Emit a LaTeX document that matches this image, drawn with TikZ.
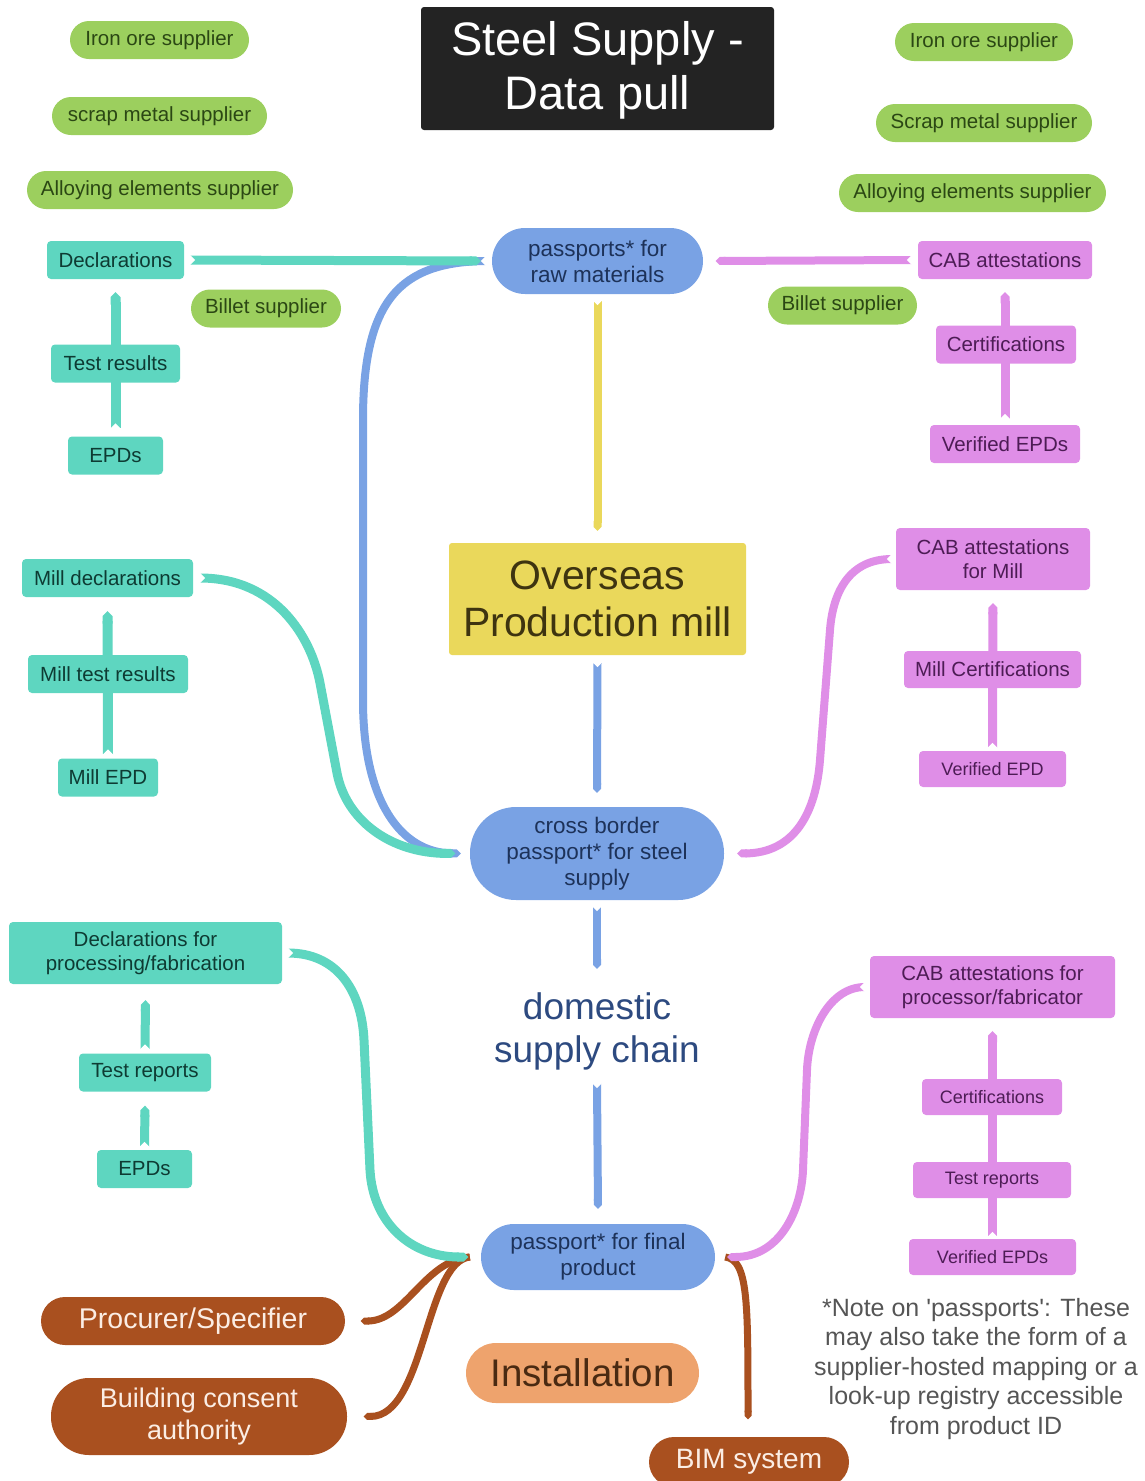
\documentclass[tikz,border=0pt]{standalone}
\usepackage{fontspec}
\setmainfont{Liberation Sans}
\usetikzlibrary{arrows.meta}
\pgfdeclarelayer{bg}
\pgfsetlayers{bg,main}

% palette
\definecolor{cgreen}{HTML}{9CCF5E}\definecolor{tgreen}{HTML}{2B4714}
\definecolor{cteal}{HTML}{5ED6C0}\definecolor{tteal}{HTML}{0E3B33}
\definecolor{cpink}{HTML}{DF8EE7}\definecolor{tpink}{HTML}{4D1C55}
\definecolor{cblue}{HTML}{79A2E4}\definecolor{tblue}{HTML}{1D3259}
\definecolor{cyellow}{HTML}{EAD85B}\definecolor{tyellow}{HTML}{3E3410}
\definecolor{corange}{HTML}{EEA36D}\definecolor{torange}{HTML}{4A2A12}
\definecolor{cbrown}{HTML}{A9501F}\definecolor{tbrown}{HTML}{FBEDE4}
\definecolor{ctitle}{HTML}{232323}
\definecolor{cdom}{HTML}{2D4A80}
\definecolor{cnote}{HTML}{555555}

\newcommand\setfs[2]{\fontsize{#1pt}{#2pt}\selectfont}

\tikzset{
  box/.style={inner sep=0pt, align=center, font=\setfs{20.5}{24}},
  greenpill/.style={box, fill=cgreen, text=tgreen, minimum height=38pt, rounded corners=19pt},
  tealbox/.style={box, fill=cteal, text=tteal, minimum height=38pt, rounded corners=4pt},
  pinkbox/.style={box, fill=cpink, text=tpink, minimum height=38pt, rounded corners=4pt},
  pinksmall/.style={pinkbox, minimum height=36pt, font=\setfs{18}{22}},
  bluepill/.style={box, fill=cblue, text=tblue, font=\setfs{22.5}{26}},
  brownpill/.style={box, fill=cbrown, text=tbrown},
  link/.style={line width=9pt, -{Triangle Cap}},
  % swallowtail cut at the start of a ribbon; +x is the direction of travel
  notch/.pic={\fill[white] (-1,-6) -- (5,0) -- (-1,6) -- cycle;},
}

\begin{document}
\begin{tikzpicture}[x=1pt, y=-1pt]
\useasboundingbox (0,0) rectangle (1145,1481);

% title
\node[box, fill=ctitle, text=white, minimum width=353pt, minimum height=123pt,
      rounded corners=3pt, font=\setfs{47}{54}] (title) at (597.5,68.5) {\strut Steel Supply -\\Data pull};

% raw material suppliers
\node[greenpill, minimum width=179pt] (gl1) at (159.5,40) {Iron ore supplier};
\node[greenpill, minimum width=215pt] (gl2) at (159.5,116) {scrap metal supplier};
\node[greenpill, minimum width=266pt] (gl3) at (160,190) {Alloying elements supplier};
\node[greenpill, minimum width=150pt] (gl4) at (266,308.5) {Billet supplier};
\node[greenpill, minimum width=178pt] (gr1) at (984,42) {Iron ore supplier};
\node[greenpill, minimum width=216pt] (gr2) at (984,123) {Scrap metal supplier};
\node[greenpill, minimum width=267pt] (gr3) at (972.5,193) {Alloying elements supplier};
\node[greenpill, minimum width=149pt] (gr4) at (842.5,305.5) {Billet supplier};

% main chain
\node[bluepill, minimum width=211pt, minimum height=66pt, rounded corners=33pt] (raw) at (597.5,261) {passports* for\\raw materials};
\node[box, fill=cyellow, text=tyellow, minimum width=297pt, minimum height=112pt, rounded corners=3pt,
      font=\setfs{41}{47}] (mill) at (597.5,599) {Overseas\\Production mill};
\node[bluepill, minimum width=254pt, minimum height=93pt, rounded corners=46pt] (cb) at (597,853.5) {cross border\\passport* for steel\\supply};
\node[box, text=cdom, minimum height=100pt, font=\setfs{37}{43}] (dom) at (597,1031) {domestic\\supply chain};
\node[bluepill, minimum width=234pt, minimum height=66pt, rounded corners=33pt] (fin) at (598,1257) {passport* for final\\product};
\node[box, fill=corange, text=torange, minimum width=233pt, minimum height=60pt, rounded corners=30pt,
      font=\setfs{38.5}{44}] (inst) at (582.5,1373) {Installation};

% users of the final passport
\node[brownpill, minimum width=304pt, minimum height=48pt, rounded corners=24pt, font=\setfs{28.5}{33}] (proc) at (193,1321) {Procurer/Specifier};
\node[brownpill, minimum width=296pt, minimum height=77pt, rounded corners=38pt, font=\setfs{27}{32}] (bca) at (199,1416.5) {Building consent\\authority};
\node[brownpill, minimum width=200pt, minimum height=50pt, rounded corners=25pt, font=\setfs{28}{32}] (bim) at (749,1462) {BIM system};

% declarations (left)
\node[tealbox, minimum width=137pt] (dec) at (115.5,260) {Declarations};
\node[tealbox, minimum width=129pt] (tres) at (115.5,363.5) {Test results};
\node[tealbox, minimum width=95pt] (epd) at (115.5,455.5) {EPDs};
\node[tealbox, minimum width=171pt] (mdec) at (107.5,578) {Mill declarations};
\node[tealbox, minimum width=160pt] (mtr) at (108,674) {Mill test results};
\node[tealbox, minimum width=100pt] (mepd) at (108,777.5) {Mill EPD};
\node[tealbox, minimum width=273pt, minimum height=62pt] (dpf) at (145.5,953) {Declarations for\\processing/fabrication};
\node[tealbox, minimum width=132pt] (trep) at (145,1072.5) {Test reports};
\node[tealbox, minimum width=95pt] (epd2) at (144.5,1169) {EPDs};

% attestations (right)
\node[pinkbox, minimum width=174pt] (cab) at (1005,260) {CAB attestations};
\node[pinkbox, minimum width=140pt] (cert) at (1006,344.5) {Certifications};
\node[pinkbox, minimum width=150pt] (vepd) at (1005,444) {Verified EPDs};
\node[pinkbox, minimum width=194pt, minimum height=62pt] (cabm) at (993,559) {CAB attestations\\for Mill};
\node[pinkbox, minimum width=177pt, minimum height=37pt] (mcert) at (992.5,669.5) {Mill Certifications};
\node[pinksmall, minimum width=147pt] (vepdm) at (992.5,769) {Verified EPD};
\node[pinkbox, minimum width=245pt, minimum height=62pt] (cabp) at (992.5,987) {CAB attestations for\\processor/fabricator};
\node[pinksmall, minimum width=140pt] (cert2) at (992,1097) {Certifications};
\node[pinksmall, minimum width=158pt] (trep2) at (992,1180) {Test reports};
\node[pinksmall, minimum width=167pt] (vepd2) at (992.5,1257) {Verified EPDs};

% footnote
\node[align=center, text=cnote, font=\setfs{25}{29.5}] (note) at (976,1369)
  {*Note on \textquotesingle passports\textquotesingle: These\\may also take the form of a\\supplier-hosted mapping or a\\look-up registry accessible\\from product ID};

\begin{pgfonlayer}{bg}
  % main vertical chain
  \draw[link, cyellow, line width=8pt] ([yshift=-6pt]raw.south) coordinate (t1) -- ([yshift=12pt]mill.north);
  \draw[link, cblue, line width=8pt] ([yshift=-7pt]mill.south) coordinate (t2) -- ([yshift=14pt]cb.north);
  \draw[link, cblue, line width=8pt] ([yshift=-6pt]cb.south) coordinate (t3) -- ([yshift=12pt]dom.north);
  \draw[link, cblue, line width=8pt] ([yshift=-2pt]dom.south) coordinate (t4) -- ([yshift=15pt]fin.north);

  % raw material passports feed the cross border passport
  \draw[link, cblue, line width=8pt] ([xshift=-6pt]raw.west) coordinate (t5)
     .. controls (400,262) and (363,300) .. (363,420) -- (363,700)
     .. controls (363,800) and (400,853) .. ([xshift=-9pt]cb.west);

  % top level evidence
  \draw[link, cteal] ([xshift=6pt]dec.east) coordinate (t6) -- ([xshift=-11pt]raw.west);
  \draw[link, cpink, line width=8pt] ([xshift=-6pt]cab.west) coordinate (t7) -- ([xshift=12.5pt]raw.east);
  \draw[link, cteal, line width=10pt] ([yshift=8pt]epd.north) coordinate (t8) -- ([yshift=-13pt]dec.south);
  \draw[link, cpink, line width=9pt] ([yshift=6pt]vepd.north) coordinate (t9) -- ([yshift=-13pt]cab.south);

  % mill evidence
  \draw[link, cteal, line width=9pt] ([xshift=7pt]mdec.east) coordinate (t10)
     .. controls (275,578) and (311,636) .. (320,683) -- (337,773)
     .. controls (346,820) and (390,853) .. ([xshift=-14.5pt]cb.west);
  \draw[link, cpink, line width=8pt] ([xshift=-4pt]cabm.west) coordinate (t11)
     .. controls (850,559) and (833,591) .. (830,630) -- (820,760)
     .. controls (816,812) and (795,853) .. ([xshift=13pt]cb.east);
  \draw[link, cteal, line width=10pt] ([yshift=4pt]mepd.north) coordinate (t12) -- ([yshift=-14pt]mdec.south);
  \draw[link, cpink, line width=9pt] ([yshift=3pt]vepdm.north) coordinate (t13) -- ([yshift=-13pt]cabm.south);

  % users of the final passport
  \draw[link, cbrown, line width=7pt] ([xshift=-11pt]fin.west)
     .. controls (425,1260) and (405,1321) .. ([xshift=15.5pt]proc.east);
  \draw[link, cbrown, line width=7pt] ([xshift=-11pt]fin.west)
     .. controls (425,1262) and (425,1416) .. ([xshift=16.5pt]bca.east);
  \draw[link, cbrown, line width=7pt] ([xshift=10pt]fin.east)
     .. controls (748,1260) and (748,1300) .. ([xshift=-1pt,yshift=17.5pt]bim.north);

  % processing evidence
  \draw[link, cteal, line width=9pt] ([xshift=6pt]dpf.east) coordinate (t14)
     .. controls (335,953) and (361.6,988) .. (364,1040) -- (370,1170)
     .. controls (372.8,1222) and (410,1257) .. ([xshift=-12.5pt]fin.west);
  \draw[link, cpink, line width=8pt] ([xshift=-5pt]cabp.west) coordinate (t15)
     .. controls (830,987) and (808.6,1030) .. (807,1070) -- (803,1170)
     .. controls (801.4,1210) and (780,1257) .. ([xshift=12pt]fin.east);
  \draw[link, cteal, line width=9pt] ([yshift=4pt]trep.north) coordinate (t16) -- ([yshift=-16pt]dpf.south);
  \draw[link, cteal, line width=9pt] ([yshift=3pt]epd2.north) coordinate (t17) -- ([yshift=-14pt]trep.south);
  \draw[link, cpink, line width=9pt] ([yshift=2pt]vepd2.north) coordinate (t18) -- ([yshift=-13pt]cabp.south);

  % swallowtail ends
  \foreach \c in {t1,t2,t3,t4} \pic[rotate=-90] at (\c) {notch};
  \foreach \c in {t5,t7,t11,t15} \pic[rotate=180] at (\c) {notch};
  \foreach \c in {t6,t10,t14} \pic at (\c) {notch};
  \foreach \c in {t8,t9,t12,t13,t16,t17,t18} \pic[rotate=90] at (\c) {notch};
\end{pgfonlayer}
\end{tikzpicture}
\end{document}
